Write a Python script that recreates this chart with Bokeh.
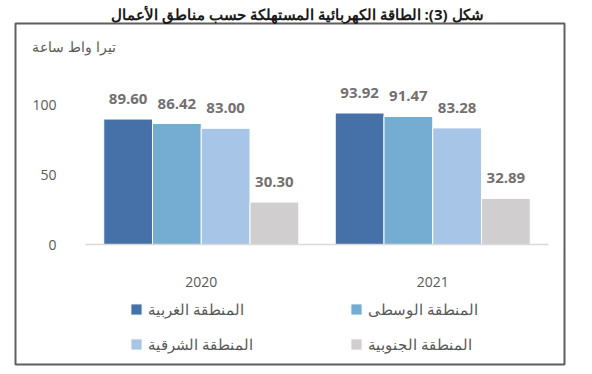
from bokeh.plotting import figure
from bokeh.models import (ColumnDataSource, Label, Legend, LegendItem, BoxAnnotation,
                          FixedTicker, Range1d)
from bokeh.core.properties import value
from bokeh.embed import file_html
from bokeh.resources import INLINE

# ---- data ----
years = ["2020", "2021"]
regions = ["المنطقة الغربية", "المنطقة الوسطى", "المنطقة الشرقية", "المنطقة الجنوبية"]
western = [89.60, 93.92]
central = [86.42, 91.47]
eastern = [83.00, 83.28]
southern = [30.30, 32.89]
y_ticks = [0, 50, 100]
title_text = "شكل (3): الطاقة الكهربائية المستهلكة حسب مناطق الأعمال"
y_label = "تيرا واط ساعة"

colors = ["#4670a8", "#74acd2", "#a7c5e7", "#d0cece"]
FONT = "Open Sans"

W, H = 592, 374
AX_L, AX_R, Y0 = 85, 548, 244
PX_PER_UNIT = 1.4
CAT_PX = (AX_R - AX_L) / len(years)

x_start = -AX_L / CAT_PX
x_end = len(years) + (W - AX_R) / CAT_PX
y_start = -(H - Y0) / PX_PER_UNIT
y_end = Y0 / PX_PER_UNIT

p = figure(x_range=Range1d(x_start, x_end), y_range=Range1d(y_start, y_end),
           width=W, height=H, output_backend="svg", toolbar_location=None,
           min_border=0)
p.outline_line_color = None
p.xgrid.visible = False
p.ygrid.visible = False
p.background_fill_color = "white"
p.border_fill_color = "white"

keys = ["western", "central", "eastern", "southern"]
series = [western, central, eastern, southern]
centers = [i + 0.5 for i in range(len(years))]

bw = 0.2106
offsets = [-1.5 * bw, -0.5 * bw, 0.5 * bw, 1.5 * bw]
renderers = []
for k, s, off, c in zip(keys, series, offsets, colors):
    src = ColumnDataSource(dict(x=[cx + off for cx in centers], top=s,
                                lbl=[f"{v:.2f}" for v in s]))
    r = p.vbar(x="x", top="top", width=bw, source=src,
               fill_color=c, line_color="white", line_width=1)
    renderers.append(r)
    p.text(x="x", y="top", text="lbl", source=src,
           y_offset=-20, text_align="center", text_baseline="middle",
           text_font=value(FONT), text_font_style="bold", text_font_size="15px",
           text_color="#737070")

xa = p.xaxis[0]
xa.fixed_location = 0
xa.bounds = (0, len(years))
xa.ticker = FixedTicker(ticks=centers)
xa.major_label_overrides = {c: y for c, y in zip(centers, years)}
xa.axis_line_color = "#d9d9d9"
xa.axis_line_width = 1.5
xa.major_tick_line_color = None
xa.minor_tick_line_color = None
xa.major_label_standoff = 26
xa.major_label_text_font = FONT
xa.major_label_text_font_size = "14px"
xa.major_label_text_color = "#595959"

ya = p.yaxis[0]
ya.fixed_location = 0
ya.ticker = FixedTicker(ticks=y_ticks)
ya.axis_line_color = None
ya.major_tick_line_color = None
ya.minor_tick_line_color = None
ya.major_label_standoff = 23
ya.major_label_text_font = FONT
ya.major_label_text_font_size = "14px"
ya.major_label_text_color = "#595959"

def sx(px):
    return px

def sy(py):
    return H - py

# box border
p.add_layout(BoxAnnotation(left=sx(15), right=sx(564), top=sy(23), bottom=sy(364),
                           left_units="screen", right_units="screen",
                           top_units="screen", bottom_units="screen",
                           fill_color=None, fill_alpha=0,
                           line_color="#5f5f5f", line_alpha=1.0, line_width=2))

p.add_layout(Label(x=sx(483), y=sy(13), x_units="screen", y_units="screen",
                   text=title_text, text_align="right", text_baseline="middle",
                   text_font=FONT, text_font_style="bold", text_font_size="15px",
                   text_color="#1a1a1a"))
p.add_layout(Label(x=sx(115), y=sy(46), x_units="screen", y_units="screen",
                   text=y_label, text_align="right", text_baseline="middle",
                   text_font=FONT, text_font_size="14px", text_color="#595959"))

leg_pos = [(129, 319), (349, 319), (129, 354), (349, 354)]
for name, r, (lx, ly) in zip(regions, renderers, leg_pos):
    lg = Legend(items=[LegendItem(label=name, renderers=[r])],
                location=(sx(lx), sy(ly)), padding=0, margin=0, spacing=0,
                glyph_width=14, glyph_height=14, label_height=14, label_standoff=5,
                label_text_font=FONT, label_text_font_size="15px",
                label_text_color="#595959", border_line_color=None,
                background_fill_alpha=0)
    p.add_layout(lg)

open("out.html", "w").write(file_html(p, INLINE))
